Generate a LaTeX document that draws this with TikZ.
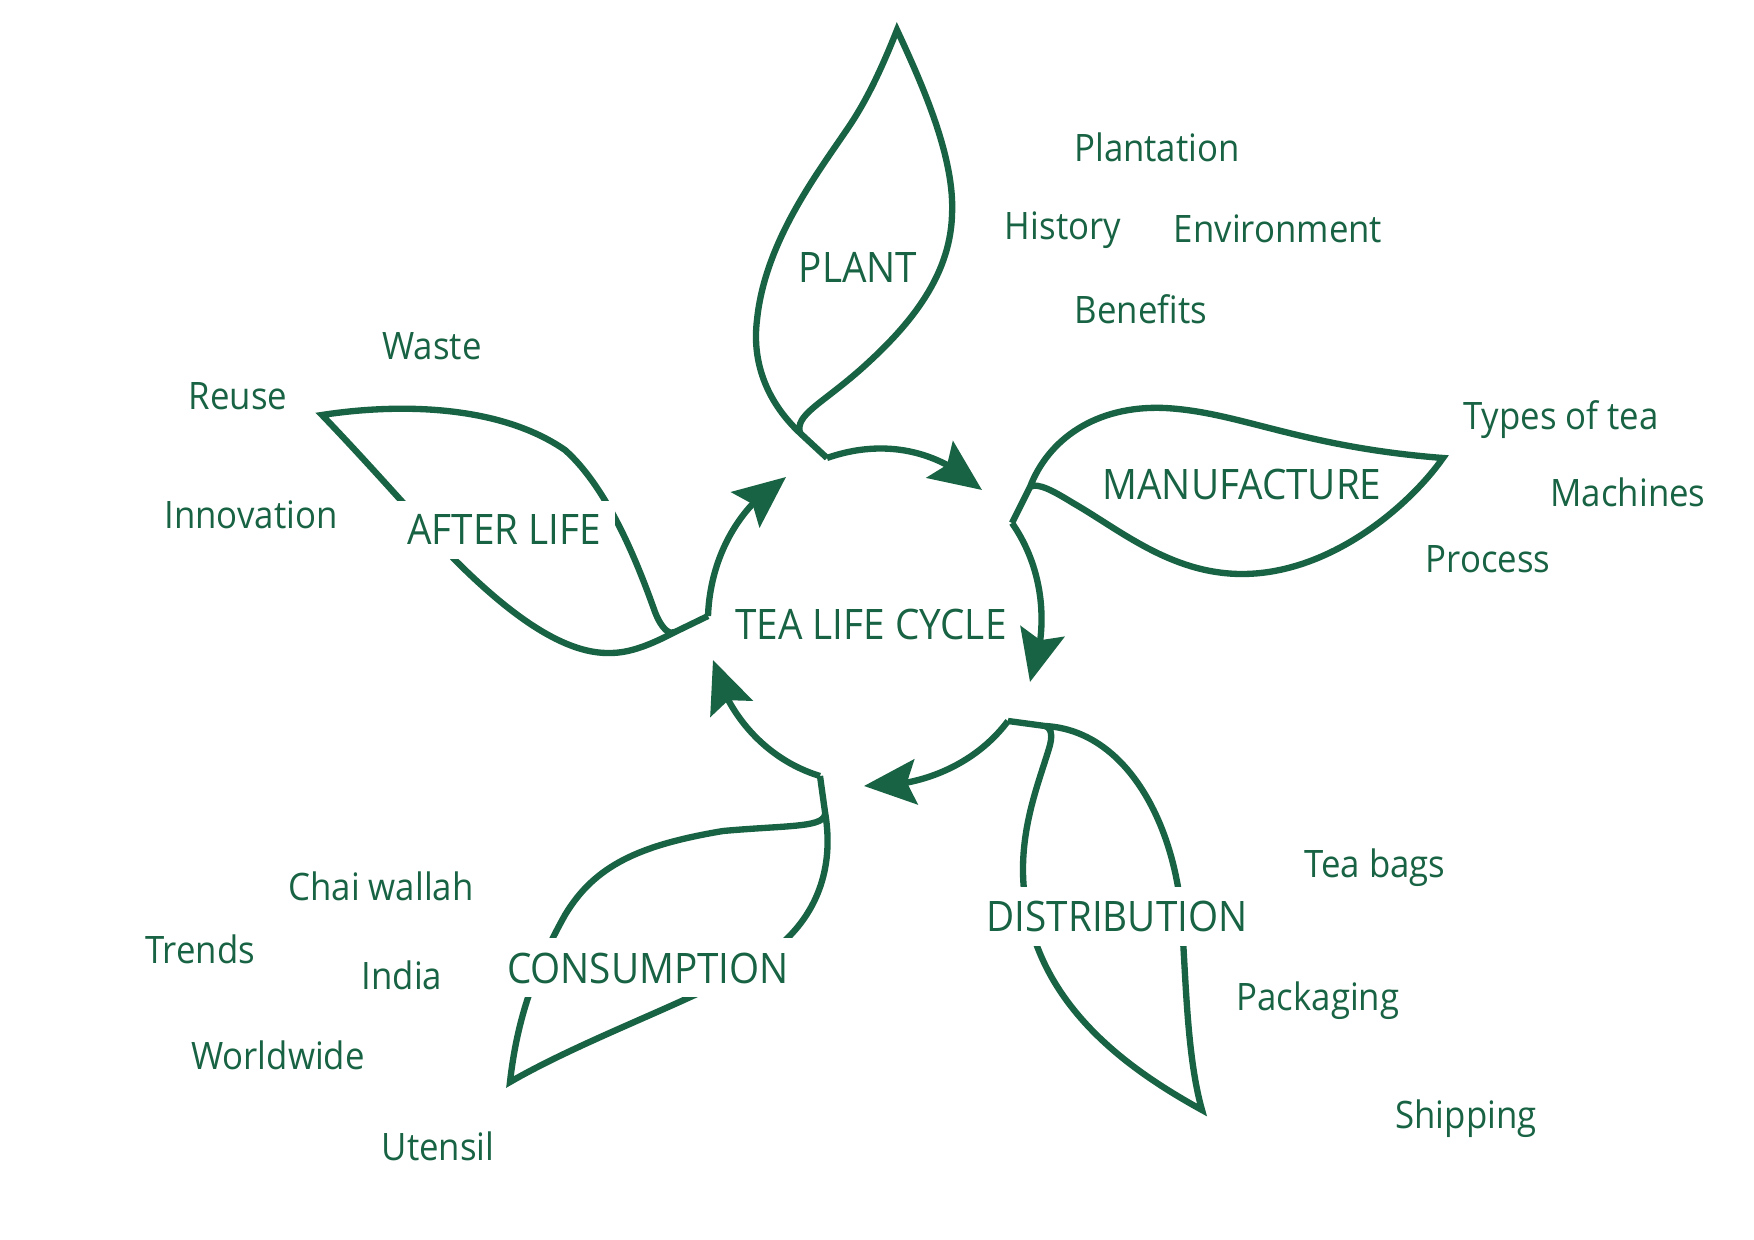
\documentclass[tikz,border=0pt]{standalone}
\usepackage{fontspec}
\setmainfont{Open Sans}[FakeStretch=0.92]
\usetikzlibrary{arrows.meta,bending}
\definecolor{tea}{RGB}{24,99,67}
\tikzset{
  sublabel/.style={font=\fontsize{10.75}{13}\selectfont, text=tea, anchor=base, inner sep=0pt},
  leaflabel/.style={font=\fontsize{11.95}{14}\selectfont, text=tea, anchor=base, inner sep=4pt},
  cutlabel/.style={leaflabel, fill=white},
  leaf/.style={draw=tea, line width=1.8pt},
  arr/.style={draw=tea, line width=1.8pt, -{Stealth[length=5.2mm,width=4.5mm,inset=0.9mm,flex=1]}}
}
\begin{document}
\begin{tikzpicture}[x=0.01cm,y=-0.01cm]
\fill[white] (0,0) rectangle (1754,1240);
\useasboundingbox (0,0) rectangle (1754,1240);

% stem corners and arrow tips
\coordinate (pc) at (827,458);
\coordinate (mc) at (1012,523);
\coordinate (dc) at (1008,721);
\coordinate (cc) at (820,776);
\coordinate (ac) at (708,616);
\coordinate (pm) at (982,490);
\coordinate (md) at (1030,682);
\coordinate (dq) at (864,786);
\coordinate (ca) at (713,660);
\coordinate (ap) at (786,477);

% leaves
\draw[leaf] (pc) -- (800,433) .. controls (765,400) and (752,360) .. (757,320)
  .. controls (765,240) and (820,170) .. (850,125)
  .. controls (870,95) and (885,60) .. (897,30)
  .. controls (925,90) and (955,160) .. (952,215)
  .. controls (950,280) and (905,330) .. (860,370)
  .. controls (820,405) and (795,415) .. (800,433);

\draw[leaf] (mc) -- (1030,487) .. controls (1048,440) and (1095,405) .. (1165,408)
  .. controls (1240,412) and (1300,447) .. (1443,458)
  .. controls (1410,505) and (1330,575) .. (1240,574)
  .. controls (1170,573) and (1120,530) .. (1073,503)
  .. controls (1055,492) and (1038,482) .. (1030,487);

\draw[leaf] (dc) -- (1045,726) .. controls (1120,730) and (1168,810) .. (1180,900)
  .. controls (1186,960) and (1185,1050) .. (1202,1110)
  .. controls (1120,1065) and (1035,1000) .. (1024,890)
  .. controls (1018,830) and (1040,780) .. (1050,745)
  .. controls (1053,733) and (1050,727) .. (1045,726);

\draw[leaf] (cc) -- (825,812) .. controls (835,870) and (815,915) .. (780,945)
  .. controls (740,985) and (600,1030) .. (510,1082)
  .. controls (518,1010) and (540,960) .. (565,915)
  .. controls (595,865) and (640,845) .. (723,831)
  .. controls (790,825) and (827,828) .. (825,812);

\draw[leaf] (ac) -- (675,632) .. controls (650,645) and (630,653) .. (610,653)
  .. controls (570,654) and (520,625) .. (455,560)
  .. controls (420,522) and (370,465) .. (322,415)
  .. controls (400,403) and (500,405) .. (565,450)
  .. controls (610,490) and (640,570) .. (655,612)
  .. controls (662,630) and (670,635) .. (675,632);

% cycle arrows
\draw[arr] (pc) .. controls (878,440) and (935,446) .. (pm);
\draw[arr] (mc) .. controls (1044,569) and (1050,629) .. (md);
\draw[arr] (dc) .. controls (975,765) and (920,788) .. (dq);
\draw[arr] (cc) .. controls (767,760) and (726,715) .. (ca);
\draw[arr] (ac) .. controls (710,560) and (737,506) .. (ap);

% main labels
\node[leaflabel] (plant) at (858,283) {PLANT};
\node[leaflabel] (manu) at (1242,500) {MANUFACTURE};
\node[cutlabel] (dist) at (1117,932) {DISTRIBUTION};
\node[cutlabel] (cons) at (648,983) {CONSUMPTION};
\node[cutlabel] (after) at (504,545) {AFTER LIFE};
\node[leaflabel] (centre) at (871,640) {TEA LIFE CYCLE};

% sub labels
\node[sublabel] (plantation) at (1157,162) {Plantation};
\node[sublabel] (history) at (1063,240) {History};
\node[sublabel] (environment) at (1278,243) {Environment};
\node[sublabel] (benefits) at (1141,324) {Benefits};
\node[sublabel] (types) at (1561,430) {Types of tea};
\node[sublabel] (machines) at (1628,507) {Machines};
\node[sublabel] (process) at (1488,573) {Process};
\node[sublabel] (teabags) at (1375,877) {Tea bags};
\node[sublabel] (packaging) at (1318,1011) {Packaging};
\node[sublabel] (shipping) at (1466,1128) {Shipping};
\node[sublabel] (utensil) at (438,1160) {Utensil};
\node[sublabel] (worldwide) at (278,1070) {Worldwide};
\node[sublabel] (india) at (402,989) {India};
\node[sublabel] (trends) at (200,963) {Trends};
\node[sublabel] (chai) at (381,900) {Chai wallah};
\node[sublabel] (innovation) at (251,529) {Innovation};
\node[sublabel] (reuse) at (238,410) {Reuse};
\node[sublabel] (waste) at (432,360) {Waste};
\end{tikzpicture}
\end{document}
